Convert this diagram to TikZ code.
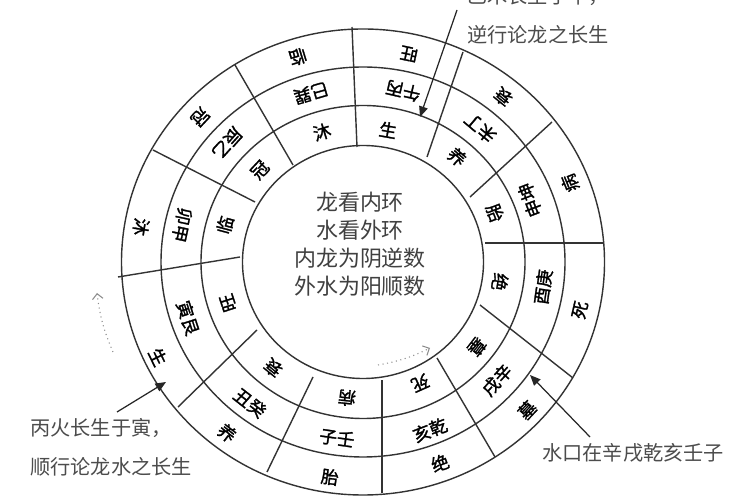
\documentclass[tikz,border=0pt]{standalone}
\usepackage{fontspec}
\usetikzlibrary{arrows.meta}
\newfontfamily\cjk{Noto Sans CJK SC}
\newfontfamily\cjkbold{Noto Sans CJK SC}[FakeBold=1.5]
\tikzset{
  ring/.style={draw=black!80, line width=0.8pt},
  lbl/.style={font=\cjkbold\fontsize{10}{10}\selectfont, inner sep=0pt},
  pair/.style={font=\cjkbold\fontsize{10}{10}\selectfont, inner sep=0pt},
  note/.style={font=\cjk\fontsize{11.5}{14}\selectfont, text=black!70, inner sep=0pt, anchor=west},
  pointer/.style={draw=black!85, line width=0.7pt, -{Triangle[length=6pt,width=5pt]}},
  faint/.style={draw=black!45, line width=0.6pt, dotted, -{Straight Barb[length=3pt]}},
}

\begin{document}
\begin{tikzpicture}[x=0.02cm, y=0.02cm]
            \useasboundingbox (0, 0) rectangle (750, 500);
            \clip (0, 0) rectangle (750, 500);
            \fill[white] (0, 0) rectangle (750, 500);

            \draw[ring] (363, 238) ellipse [x radius=241.5, y radius=233];
            \draw[ring] (363, 238) ellipse [x radius=202, y radius=195];
            \draw[ring] (363, 238) ellipse [x radius=162, y radius=156.5];
            \draw[ring] (363, 238) ellipse [x radius=120.5, y radius=116.5];

            \draw[ring] (352, 473) -- (357, 353);
            \draw[ring] (463, 448) -- (427, 343);
            \draw[ring] (552, 378) -- (470, 303);
            \draw[ring] (603, 257) -- (485, 257);
            \draw[ring] (573, 122) -- (480, 195);
            \draw[ring] (495, 43) -- (437, 142);
            \draw[ring] (382, 7) -- (382, 120);
            \draw[ring] (267, 28) -- (313, 123);
            \draw[ring] (178, 93) -- (257, 170);
            \draw[ring] (118, 223) -- (240, 243);
            \draw[ring] (153, 350) -- (255, 298);
            \draw[ring] (235, 435) -- (293, 335);

            % water, outer ring
            \node[lbl, rotate=-64] (w-yin) at (158, 143) {生};
            \node[lbl, rotate=-99] (w-mao) at (141, 273) {沐};
            \node[lbl, rotate=-133] (w-chen) at (200, 383) {冠};
            \node[lbl, rotate=-163] (w-si) at (298, 443) {临};
            \node[lbl, rotate=168] (w-wu) at (409, 446) {旺};
            \node[lbl, rotate=141] (w-wei) at (503, 403) {衰};
            \node[lbl, rotate=112] (w-shen) at (570, 317) {病};
            \node[lbl, rotate=77] (w-you) at (580, 190) {死};
            \node[lbl, rotate=47] (w-xu) at (527, 90) {墓};
            \node[lbl, rotate=20] (w-hai) at (440, 37) {绝};
            \node[lbl, rotate=-8] (w-zi) at (330, 23) {胎};
            \node[lbl, rotate=-38] (w-chou) at (227, 67) {养};

            % mountains, middle ring
            \node[pair, rotate=-72] (m-yin) at (188, 182) {寅艮};
            \node[pair, rotate=-102] (m-mao) at (182, 275) {卯甲};
            \node[pair, rotate=-132] (m-chen) at (227, 357) {辰乙};
            \node[pair, rotate=-164] (m-si) at (311, 407) {巳巽};
            \node[pair, rotate=167] (m-wu) at (403, 409) {午丙};
            \node[pair, rotate=140] (m-wei) at (480, 372) {未丁};
            \node[pair, rotate=111] (m-shen) at (530, 300) {申坤};
            \node[pair, rotate=82] (m-you) at (543, 213) {酉庚};
            \node[pair, rotate=48] (m-xu) at (497, 120) {戌辛};
            \node[pair, rotate=21] (m-hai) at (430, 70) {亥乾};
            \node[pair, rotate=-8] (m-zi) at (337, 62) {子壬};
            \node[pair, rotate=-38] (m-chou) at (250, 97) {丑癸};

            % dragon, inner ring
            \node[lbl, rotate=-10] (d-wu) at (388, 370) {生};
            \node[lbl, rotate=17] (d-si) at (322, 368) {沐};
            \node[lbl, rotate=47] (d-chen) at (260, 330) {冠};
            \node[lbl, rotate=75] (d-mao) at (225, 275) {临};
            \node[lbl, rotate=108] (d-yin) at (228, 197) {旺};
            \node[lbl, rotate=141] (d-chou) at (273, 132) {衰};
            \node[lbl, rotate=174] (d-zi) at (347, 102) {病};
            \node[lbl, rotate=-156] (d-hai) at (420, 117) {死};
            \node[lbl, rotate=-128] (d-xu) at (477, 153) {墓};
            \node[lbl, rotate=-99] (d-you) at (500, 218) {绝};
            \node[lbl, rotate=-69] (d-shen) at (495, 287) {胎};
            \node[lbl, rotate=-41] (d-wei) at (457, 343) {养};

            \node[font=\cjk\fontsize{12.5}{15.9}\selectfont, text=black!75, align=center] (rule) at (360, 255.5)
                {龙看内环\\水看外环\\内龙为阴逆数\\外水为阳顺数};

            \node[note] (dragon-top) at (467, 504) {乙木长生于午，};
            \node[note] (dragon-note) at (467, 465) {逆行论龙之长生};
            \node[note] (water-top) at (30, 72) {丙火长生于寅，};
            \node[note] (water-note) at (30, 33) {顺行论龙水之长生};
            \node[note] (mouth-note) at (542, 47) {水口在辛戌乾亥壬子};

            \coordinate (dragon-from) at (457, 490);
            \coordinate (dragon-tip) at (420, 383);
            \coordinate (water-from) at (117, 88);
            \coordinate (water-tip) at (166, 118);
            \coordinate (mouth-from) at (590, 63);
            \coordinate (mouth-tip) at (530, 125);
            \draw[pointer] (dragon-from) -- (dragon-tip);
            \draw[pointer] (water-from) -- (water-tip);
            \draw[pointer] (mouth-from) -- (mouth-tip);

            \coordinate (fw-a) at (113, 148);
            \coordinate (fw-b) at (97, 207);
            \coordinate (rv-a) at (378, 135);
            \coordinate (rv-b) at (430, 152);
            \draw[faint] (fw-a) to[bend left=8] (fw-b);
            \draw[faint] (rv-a) to[bend right=8] (rv-b);
        \end{tikzpicture}
\end{document}
